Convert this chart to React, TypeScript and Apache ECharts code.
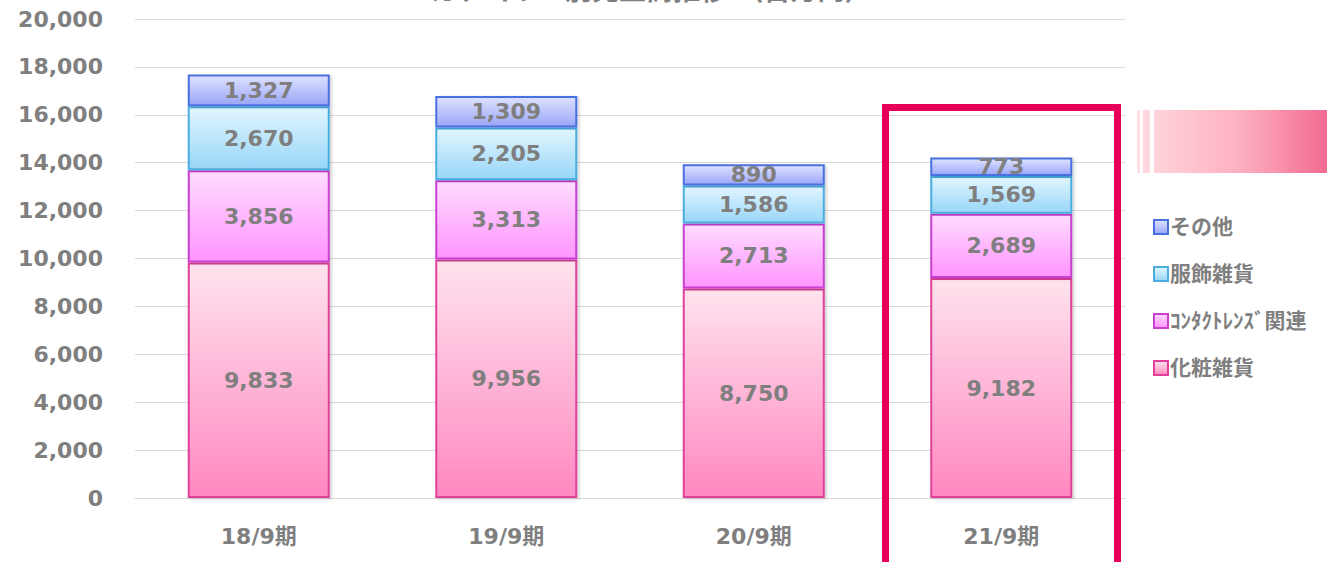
import React, { useEffect, useRef } from "react";
import * as echarts from "echarts";

const categories = ["18/9期", "19/9期", "20/9期", "21/9期"];
const cosmetics = [9833, 9956, 8750, 9182];
const contacts = [3856, 3313, 2713, 2689];
const apparel = [2670, 2205, 1586, 1569];
const others = [1327, 1309, 890, 773];
const seriesNames = ["化粧雑貨", "ｺﾝﾀｸﾄﾚﾝｽﾞ関連", "服飾雑貨", "その他"];
const titleText = "カテゴリー別売上高推移 （百万円）";

const FONT = "'DejaVu Sans', 'Noto Sans CJK JP', sans-serif";
const GRAY = "#7f7f7f";

function grad(top: string, bottom: string) {
  return new echarts.graphic.LinearGradient(0, 0, 0, 1, [
    { offset: 0, color: top },
    { offset: 1, color: bottom },
  ]);
}

export default function App() {
  const ref = useRef<HTMLDivElement>(null);
  useEffect(() => {
    if (!ref.current) return;
    const chart = echarts.init(ref.current, null, { renderer: "svg" });
    const styles = [
      { fill: grad("#ffe3ee", "#ff88c0"), border: "#e0409a" },
      { fill: grad("#ffdcff", "#ff94ff"), border: "#c840d0" },
      { fill: grad("#e2f6ff", "#98d6f8"), border: "#4aaee0" },
      { fill: grad("#dfe2ff", "#9aa6f8"), border: "#4a70e0" },
    ];
    const datas = [cosmetics, contacts, apparel, others];
    const series = datas.map((d, i) => ({
      name: seriesNames[i],
      type: "bar",
      stack: "total",
      barWidth: 142,
      data: d,
      itemStyle: {
        color: styles[i].fill,
        borderColor: styles[i].border,
        borderWidth: 2,
        shadowColor: "rgba(0,0,0,0.18)",
        shadowBlur: 3,
        shadowOffsetX: 2,
        shadowOffsetY: 1,
      },
      label: {
        show: true,
        position: "inside",
        color: GRAY,
        fontFamily: FONT,
        fontWeight: "bold",
        fontSize: 22,
        formatter: (p: any) => Number(p.value).toLocaleString("en-US"),
      },
    }));
    chart.setOption({
      animation: false,
      backgroundColor: "#ffffff",
      grid: { left: 135, right: 202, top: 19, bottom: 64 },
      xAxis: {
        type: "category",
        data: categories,
        axisTick: { show: false },
        axisLine: { lineStyle: { color: "#d9d9d9", width: 1 } },
        axisLabel: {
          color: GRAY,
          fontFamily: FONT,
          fontWeight: "bold",
          fontSize: 22,
          margin: 27,
        },
      },
      yAxis: {
        type: "value",
        min: 0,
        max: 20000,
        interval: 2000,
        axisLine: { show: false },
        axisTick: { show: false },
        splitLine: { lineStyle: { color: "#d9d9d9", width: 1 } },
        axisLabel: {
          color: GRAY,
          fontFamily: FONT,
          fontWeight: "bold",
          fontSize: 22,
          margin: 32,
          formatter: (v: number) => v.toLocaleString("en-US"),
        },
      },
      legend: {
        orient: "vertical",
        left: 1148,
        top: 211,
        itemWidth: 14,
        itemHeight: 14,
        itemGap: 25,
        icon: "rect",
        data: [...seriesNames].reverse(),
        textStyle: {
          color: GRAY,
          fontFamily: FONT,
          fontWeight: "bold",
          fontSize: 21,
          lineHeight: 22,
          padding: [0, 0, 0, -3],
        },
      },
      graphic: [
        {
          type: "text",
          left: 430,
          top: -23,
          style: {
            text: titleText,
            fill: GRAY,
            font: `bold 27px ${FONT}`,
          },
        },
        {
          type: "rect",
          shape: { x: 885.5, y: 107.5, width: 232, height: 470 },
          style: { fill: "none", stroke: "#e6005a", lineWidth: 7 },
          z: 100,
        },
        {
          type: "rect",
          shape: { x: 1137, y: 110, width: 3, height: 63 },
          style: { fill: "#ffe0e6" },
        },
        {
          type: "rect",
          shape: { x: 1143, y: 110, width: 7, height: 63 },
          style: { fill: "#ffd8df" },
        },
        {
          type: "rect",
          shape: { x: 1154, y: 110, width: 173, height: 63 },
          style: {
            fill: new echarts.graphic.LinearGradient(0, 0, 1, 0, [
              { offset: 0, color: "#ffd3da" },
              { offset: 0.5, color: "#fdb0bf" },
              { offset: 1, color: "#f26b92" },
            ]),
          },
        },
      ],
      series,
    });
    return () => chart.dispose();
  }, []);
  return <div ref={ref} style={{ width: 1327, height: 562, position: "absolute", left: 0, top: 0 }} />;
}
